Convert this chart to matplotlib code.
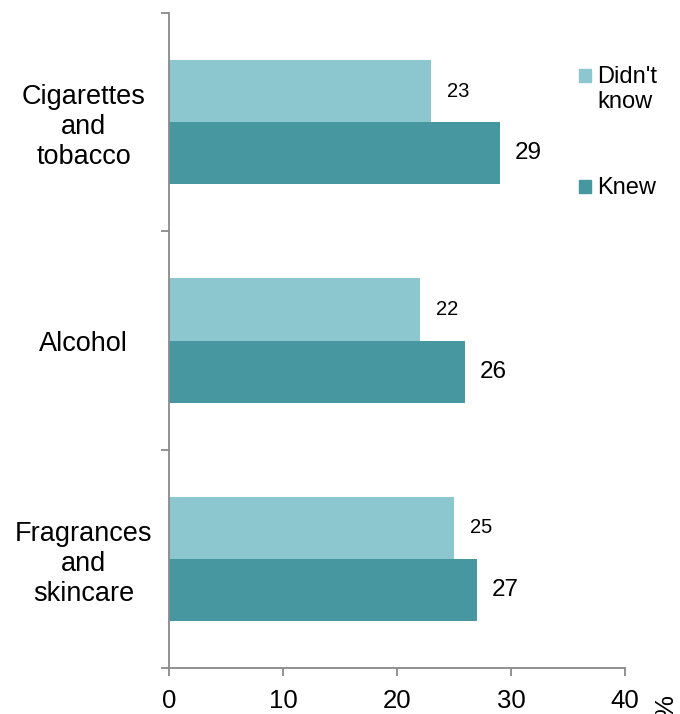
import matplotlib
matplotlib.use('Agg')
import matplotlib.pyplot as plt
from matplotlib.patches import Rectangle
import numpy as np

plt.rcParams['font.family'] = ['Liberation Sans', 'DejaVu Sans']

categories = ['Cigarettes\nand\ntobacco', 'Alcohol', 'Fragrances\nand\nskincare']
didnt_know = [23, 22, 25]
knew = [29, 26, 27]
series_names = ["Didn't\nknow", 'Knew']
light = '#8cc7cf'
dark = '#46979f'
grey = '#898989'

fig = plt.figure(figsize=(6.8, 7.14), dpi=100)
ax = fig.add_axes([169 / 680, 1 - 668 / 714, (625 - 169) / 680, (668 - 13) / 714])

y = np.arange(len(categories))
h = 0.285
ax.barh(y - h / 2, didnt_know, height=h, color=light)
ax.barh(y + h / 2, knew, height=h, color=dark)

for yi, v in zip(y, didnt_know):
    ax.text(v + 1.4, yi - h / 2, str(v), va='center', ha='left', fontsize=14.5)
for yi, v in zip(y, knew):
    ax.text(v + 1.3, yi + h / 2, str(v), va='center', ha='left', fontsize=17.5)

ax.set_ylim(len(categories) - 0.5, -0.5)
ax.set_xlim(0, 40)
ax.set_xticks([0, 10, 20, 30, 40])
ax.tick_params(axis='x', labelsize=18.5, length=6, color=grey, width=1.3, pad=9)
ax.set_yticks(y)
ax.set_yticklabels(categories, fontsize=19.5, ha='center', linespacing=1.2)
ax.set_yticks(np.arange(len(categories) + 1) - 0.5, minor=True)
ax.tick_params(axis='y', which='major', length=0, pad=61.5)
ax.tick_params(axis='y', which='minor', length=6, color=grey, width=1.3)

for s in ['top', 'right']:
    ax.spines[s].set_visible(False)
for s in ['left', 'bottom']:
    ax.spines[s].set_color(grey)
    ax.spines[s].set_linewidth(1.3)

# legend drawn by hand so the swatch sits on the first text line
legend_rows = [75, 186]
for name, col, ypix in zip(series_names, [light, dark], legend_rows):
    fig.add_artist(Rectangle((579 / 680, 1 - (ypix + 7) / 714), 12 / 680, 13 / 714,
                             transform=fig.transFigure, color=col))
    fig.text(597 / 680, 1 - (ypix - 9) / 714, name, fontsize=17, ha='left', va='top',
             linespacing=1.15)

fig.text(666 / 680, 1 - 707 / 714, '%', rotation=90, fontsize=18.5, ha='center', va='center')

fig.savefig('out.png', dpi=100)
